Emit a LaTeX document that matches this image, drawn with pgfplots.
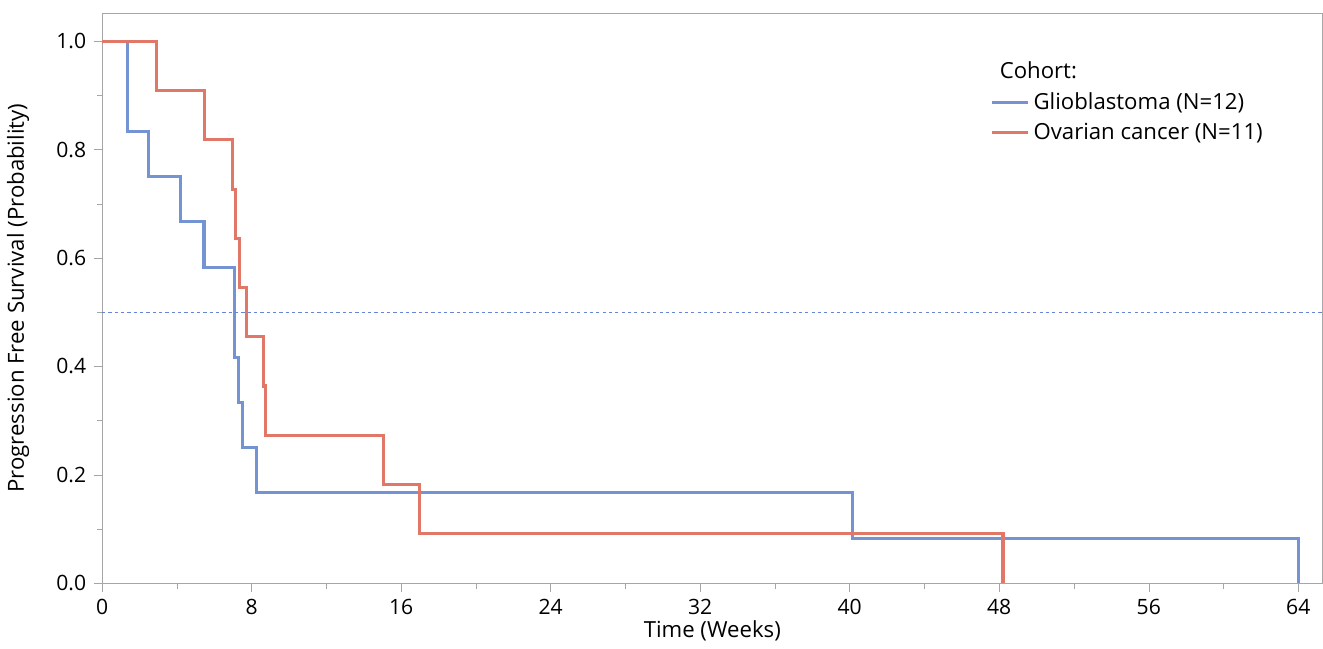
\documentclass[border={0pt 0pt 0pt 6pt}]{standalone}
\usepackage{pgfplots}
\pgfplotsset{compat=1.18}
\usepackage{fontspec}
\setmainfont{Open Sans}
\definecolor{cb}{HTML}{7393D3}
\definecolor{cr}{HTML}{E07767}
\begin{document}
\begin{tikzpicture}
\begin{axis}[scale only axis, width=578pt, height=270pt,
 xmin=0, xmax=65.3, ymin=0, ymax=1.052,
 axis line style={gray!70}, tick style={gray!70},
 xtick={0,8,...,64}, minor xtick={4,12,...,60},
 ytick={0,0.2,...,1.0}, minor ytick={0.1,0.3,...,0.9},
 yticklabel style={/pgf/number format/.cd,fixed,fixed zerofill,precision=1},
 /pgf/number format/assume math mode=true,
 tick align=outside, major tick length=4pt, minor tick length=2.5pt,
 xtick pos=bottom, ytick pos=left,
 ticklabel style={font=\fontsize{10}{11}\selectfont},
 label style={font=\fontsize{10.5}{12}\selectfont},
 xlabel={Time (Weeks)}, ylabel={Progression Free Survival (Probability)},
 xlabel style={yshift=4pt}, ylabel style={yshift=6pt},
 legend style={at={(0.96,0.93)}, anchor=north east, draw=none, font=\fontsize{10.5}{12}\selectfont, row sep=1pt},
 legend cell align=left, legend image post style={line width=1.5pt}]
\addlegendimage{empty legend}\addlegendentry{\hspace{-16pt}Cohort:}
\addplot[cb, line width=1.5pt, const plot, line join=miter] coordinates {(0,1)(1.35,0.833)(2.5,0.75)(4.2,0.667)(5.45,0.583)(7.07,0.417)(7.3,0.333)(7.5,0.25)(8.25,0.167)(40.15,0.083)(64,0.083)(64,0)};
\addlegendentry{Glioblastoma (N=12)}
\addplot[cr, line width=1.5pt, const plot, line join=miter] coordinates {(0,1)(2.9,0.909)(5.5,0.818)(6.96,0.727)(7.12,0.636)(7.34,0.545)(7.72,0.455)(8.63,0.364)(8.74,0.273)(15.05,0.182)(17.0,0.091)(48.2,0.091)(48.2,0)};
\addlegendentry{Ovarian cancer (N=11)}
\addplot[cb!90!blue, dash pattern=on 1.5pt off 1.5pt, line width=0.7pt, forget plot] coordinates {(0,0.5)(65.3,0.5)};
\end{axis}
\end{tikzpicture}
\end{document}
